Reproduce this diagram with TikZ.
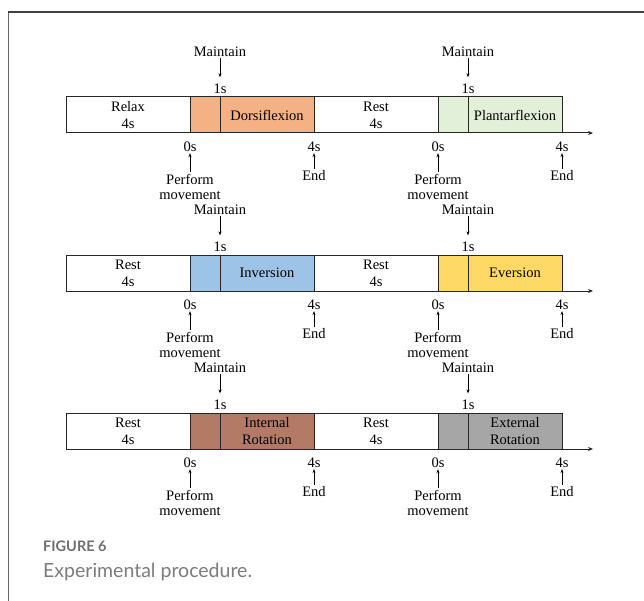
\documentclass[tikz,border=0pt]{standalone}
\usepackage{fontspec}
\setmainfont{Liberation Serif}
\newfontfamily\capfont{Lato}
\usetikzlibrary{arrows.meta,positioning}
\definecolor{dorsi}{HTML}{F4B183}
\definecolor{planta}{HTML}{E2F0D9}
\definecolor{inver}{HTML}{9DC3E6}
\definecolor{ever}{HTML}{FFD966}
\definecolor{introt}{HTML}{B37A66}
\definecolor{extrot}{HTML}{A6A6A6}
\definecolor{capgray}{HTML}{6E6E6E}

\begin{document}
\begin{tikzpicture}[x=1bp,y=1bp,
restbox/.style={draw=black!85, line width=1bp, fill=white, minimum width=124bp, minimum height=36bp, inner sep=0pt, outer sep=0pt, align=center},
leadbox/.style={restbox, minimum width=30bp},
holdbox/.style={restbox, minimum width=94bp},
lbl/.style={inner sep=1.5bp, align=center},
tick/.style={-{Stealth[length=4bp,width=3bp]}, line width=0.8bp},
axis/.style={-{Stealth[length=5bp,width=4bp]}, line width=1bp, draw=black!85}]
\tikzstyle{every node}=[font=\fontsize{14.5bp}{17bp}\selectfont]
\useasboundingbox (0,0) rectangle (644,-601);

% card frame
\draw[black!60, line width=1.5bp] (8.5,-601) -- (8.5,-12.5);
\draw[black!75, line width=2bp] (7.75,-12.5) -- (644,-12.5);

% one timeline per movement pair
\foreach \i/\y/\first/\ca/\ta/\cb/\tb in {
  1/97/{Relax}/dorsi/{Dorsiflexion}/planta/{Plantarflexion},
  2/255/{Rest}/inver/{Inversion}/ever/{Eversion},
  3/413/{Rest}/introt/{Internal\\Rotation}/extrot/{External\\Rotation}}{
  \node[restbox, anchor=north west] (a\i) at (66,-\y) {\first\\4s};
  \node[leadbox, fill=\ca, right=0pt of a\i] (b\i) {};
  \node[holdbox, fill=\ca, right=0pt of b\i] (c\i) {\ta};
  \node[restbox, right=0pt of c\i] (d\i) {Rest\\4s};
  \node[leadbox, fill=\cb, right=0pt of d\i] (e\i) {};
  \node[holdbox, fill=\cb, right=0pt of e\i] (f\i) {\tb};
  \coordinate[right=31bp of f\i.south east] (tip\i);
  \draw[axis] (a\i.south west) -- (tip\i);
  \foreach \s/\t in {b/c, e/f}{
    \node[lbl, above=2bp of \s\i.north east] (one\s\i) {1s};
    \node[lbl, above=24bp of one\s\i] (hold\s\i) {Maintain};
    \node[lbl, below=7bp of \s\i.south west] (zero\s\i) {0s};
    \node[lbl, below=19bp of zero\s\i, font=\fontsize{14.5bp}{15bp}\selectfont] (go\s\i) {Perform\\movement};
    \node[lbl, below=7bp of \t\i.south east] (four\s\i) {4s};
    \node[lbl, below=16bp of four\s\i] (end\s\i) {End};
    \draw[tick, shorten >=4.5bp] (hold\s\i) -- (one\s\i);
    \draw[tick] (go\s\i) -- (zero\s\i);
    \draw[tick] (end\s\i) -- (four\s\i);
  }
}

% caption
\node[anchor=base west, inner sep=0pt, text=capgray, font=\capfont\bfseries\fontsize{14.5bp}{15bp}\selectfont] (fignum) at (43,-551.5) {FIGURE 6};
\node[anchor=base west, inner sep=0pt, text=capgray!90, font=\capfont\fontsize{19.5bp}{20bp}\selectfont] (figcap) at (43,-577) {Experimental procedure.};
\end{tikzpicture}
\end{document}
